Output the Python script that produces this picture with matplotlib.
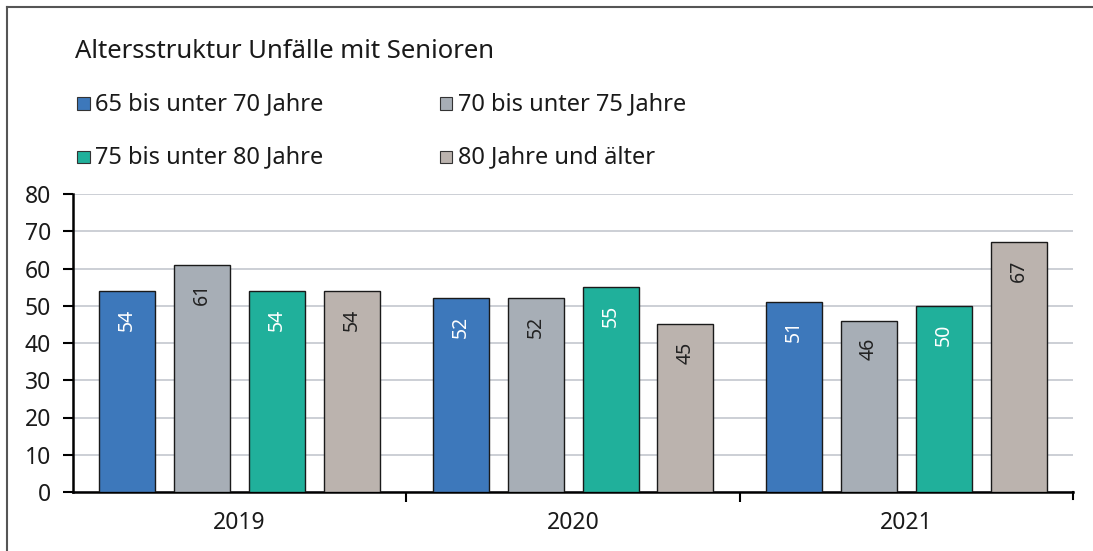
import matplotlib
matplotlib.use("Agg")
import matplotlib.pyplot as plt
import numpy as np
from matplotlib.patches import Rectangle
from matplotlib.lines import Line2D

years = ["2019", "2020", "2021"]
series_names = ["65 bis unter 70 Jahre", "70 bis unter 75 Jahre",
                "75 bis unter 80 Jahre", "80 Jahre und älter"]
values = [
    [54, 52, 51],
    [61, 52, 46],
    [54, 55, 50],
    [54, 45, 67],
]
colors = ["#3D78BB", "#A7AEB6", "#20B09B", "#BBB3AE"]
label_colors = ["white", "#222222", "white", "#222222"]
yticks = [0, 10, 20, 30, 40, 50, 60, 70, 80]

plt.rcParams['font.family'] = ['Noto Sans', 'DejaVu Sans']

W, H = 1093, 551
fig = plt.figure(figsize=(W/100, H/100), dpi=100)

# axes: left x=73, right x=1073, y0 at 492, y80 at 194
ax = fig.add_axes([73/W, 1-492/H, 1000/W, (492-194)/H])

bw = 0.168
step = 0.225
x = np.arange(len(years))
for i, (vals, c, lc) in enumerate(zip(values, colors, label_colors)):
    xs = x + (i - 1.5) * step
    ax.bar(xs, vals, width=bw, color=c, edgecolor="#1a1a1a", linewidth=1.0, zorder=3)
    for xx, v in zip(xs, vals):
        ax.text(xx, v - 7.7, str(v), rotation=90, ha="center", va="center",
                color=lc, fontsize=14, zorder=4)

ax.set_xlim(-0.5, 2.5)
ax.set_ylim(0, 80)
ax.set_yticks(yticks)
ax.set_yticklabels([str(t) for t in yticks], fontsize=16.5, color="#1a1a1a")
ax.yaxis.grid(True, color="#C3C7CE", linewidth=1.2, zorder=0)
ax.set_axisbelow(True)

ax.set_xticks([0.5, 1.5], minor=False)
ax.set_xticks(x, minor=True)
ax.set_xticklabels(["", ""])
ax.set_xticklabels(years, minor=True, fontsize=16.5, color="#1a1a1a")
ax.tick_params(axis="x", which="minor", length=0, pad=13.5)
ax.tick_params(axis="x", which="major", length=7, width=1.5, color="black", direction="out")
ax.tick_params(axis="y", length=7, width=1.5, color="black", direction="out", pad=9)

for s in ["top", "right"]:
    ax.spines[s].set_visible(False)
ax.spines["left"].set_linewidth(1.8)
ax.spines["bottom"].set_linewidth(1.8)
# tick at right end of x-axis
ax.plot([2.5, 2.5], [0, -2.0], color="black", lw=1.5, clip_on=False)

# border
fig.add_artist(Line2D([7/W, 7/W], [0, 1-7/H], color="#555555", lw=1.5))
fig.add_artist(Line2D([7/W, 1], [1-7/H, 1-7/H], color="#555555", lw=1.5))

# title
fig.text(75/W, 1-52/H, "Altersstruktur Unfälle mit Senioren", fontsize=18.5,
         color="#1a1a1a", va="center", ha="left")

# legend
leg_pos = [(77, 104), (440, 104), (77, 157), (440, 157)]
for (lx, ly), name, c in zip(leg_pos, series_names, colors):
    fig.add_artist(Rectangle((lx/W, 1-(ly+6)/H), 12.5/W, 12.5/H, facecolor=c,
                             edgecolor="#333333", lw=0.8))
    fig.text((lx+18)/W, 1-ly/H, name, fontsize=17, color="#1a1a1a",
             va="center", ha="left")

fig.savefig("out.png", dpi=100)
